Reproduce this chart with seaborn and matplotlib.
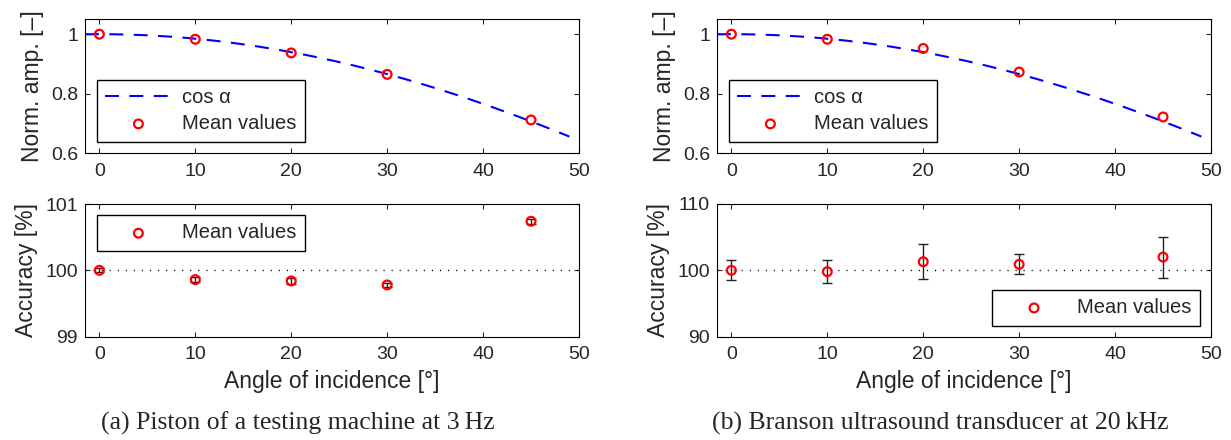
import numpy as np
import seaborn as sns
import matplotlib.pyplot as plt
from matplotlib.ticker import FormatStrFormatter

# measured angles [deg]
angles = [0, 10, 20, 30, 45]

# (a) piston of a testing machine at 3 Hz
amp_a = [1.0, 0.983, 0.937, 0.865, 0.712]
acc_a = [100.0, 99.86, 99.84, 99.78, 100.74]
err_a = [0.03, 0.04, 0.05, 0.03, 0.04]

# (b) Branson ultrasound transducer at 20 kHz
amp_b = [1.0, 0.983, 0.952, 0.873, 0.722]
acc_b = [100.0, 99.8, 101.3, 100.9, 102.0]
err_b = [1.5, 1.7, 2.6, 1.5, 3.1]

x_ticks = [0, 10, 20, 30, 40, 50]
captions = ["(a) Piston of a testing machine at 3\u2009Hz",
            "(b) Branson ultrasound transducer at 20\u2009kHz"]

# theoretical curve
alpha = np.linspace(-1.5, 49, 200)
cos_alpha = np.cos(np.deg2rad(alpha))

sns.set_theme(style="ticks")
plt.rcParams.update({
    "font.family": ["Liberation Sans", "DejaVu Sans"],
    "axes.linewidth": 0.8,
    "axes.edgecolor": "black",
    "xtick.direction": "in",
    "ytick.direction": "in",
    "xtick.top": True,
    "ytick.right": True,
    "xtick.major.size": 3.5,
    "ytick.major.size": 3.5,
    "xtick.major.width": 0.8,
    "ytick.major.width": 0.8,
    "xtick.major.pad": 7,
    "ytick.major.pad": 5,
    "xtick.labelsize": 14,
    "ytick.labelsize": 14,
    "axes.labelsize": 16.5,
    "axes.labelpad": 5,
})

fig = plt.figure(figsize=(12.31, 4.40), dpi=100)
W, H = 1231, 440
col_x = [85 / W, 717 / W]
col_w = 494 / W
top_y, top_h = 1 - 153.3 / H, 134 / H
bot_y, bot_h = 1 - 336.7 / H, 132.7 / H

legend_kw = dict(fancybox=False, edgecolor="black", framealpha=1,
                 borderpad=0.42, handlelength=3.3, handletextpad=0.5,
                 labelspacing=0.35, borderaxespad=0, fontsize=14.5)
marker_kw = dict(marker="o", s=40, facecolor="none", edgecolor="red",
                 linewidth=1.6, zorder=5)

panels = [(amp_a, acc_a, err_a, (99, 101), [99, 100, 101]),
          (amp_b, acc_b, err_b, (90, 110), [90, 100, 110])]

for i, (amp, acc, err, ylim, yticks) in enumerate(panels):
    ax1 = fig.add_axes([col_x[i], top_y, col_w, top_h])
    ax2 = fig.add_axes([col_x[i], bot_y, col_w, bot_h])

    # normalised amplitude
    sns.lineplot(x=alpha, y=cos_alpha, ax=ax1, color="#0000ff", linewidth=1.5,
                 linestyle=(0, (6.7, 5)), label="cos \u03b1")
    sns.scatterplot(x=angles, y=amp, ax=ax1, label="Mean values", **marker_kw)
    ax1.set_xlim(-1.5, 50)
    ax1.set_ylim(0.6, 1.05)
    ax1.set_xticks(x_ticks)
    ax1.set_yticks([0.6, 0.8, 1.0])
    ax1.yaxis.set_major_formatter(FormatStrFormatter("%g"))
    ax1.set_ylabel("Norm. amp. [\u2013]")
    ax1.legend(loc="lower left", bbox_to_anchor=(0.0237, 0.087), **legend_kw)

    # accuracy
    ax2.axhline(100, color="black", linestyle=(0, (0.8, 5)), linewidth=1, zorder=1)
    ax2.errorbar(angles, acc, yerr=err, fmt="none", ecolor="#222222",
                 elinewidth=1, capsize=3.5, capthick=1, zorder=3)
    sns.scatterplot(x=angles, y=acc, ax=ax2, label="Mean values", **marker_kw)
    ax2.set_xlim(-1.5, 50)
    ax2.set_ylim(*ylim)
    ax2.set_xticks(x_ticks)
    ax2.set_yticks(yticks)
    ax2.set_xlabel("Angle of incidence [\u00b0]")
    ax2.set_ylabel("Accuracy [%]")
    if i == 0:
        ax2.legend(loc="upper left", bbox_to_anchor=(0.0237, 0.917), **legend_kw)
    else:
        ax2.legend(loc="lower right", bbox_to_anchor=(0.978, 0.083), **legend_kw)

    for ax in (ax1, ax2):
        for side in ax.spines.values():
            side.set_visible(True)
            side.set_color("black")

fig.text(298 / W, 1 - 423 / H, captions[0], ha="center", va="center",
         fontsize=18.5, family=["Liberation Serif", "DejaVu Serif"])
fig.text(940 / W, 1 - 423 / H, captions[1], ha="center", va="center",
         fontsize=18.5, family=["Liberation Serif", "DejaVu Serif"])

fig.savefig("out.png", dpi=100)
